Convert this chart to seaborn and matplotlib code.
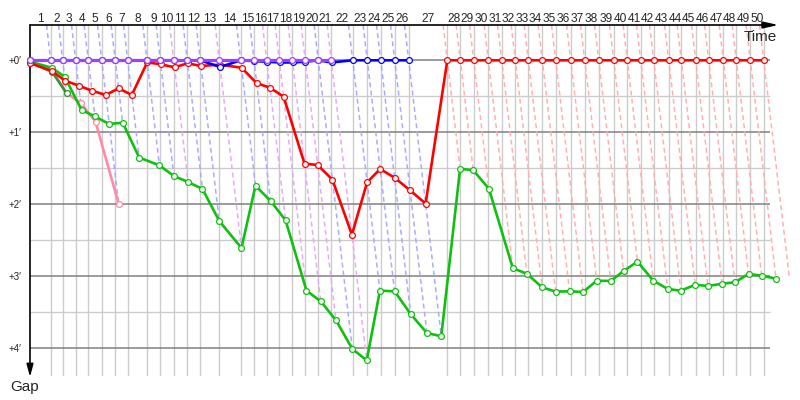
import pandas as pd
import seaborn as sns
from matplotlib import pyplot as plt

# leader's race time at the end of each lap, minutes (lap 0 .. 50)
lap_time = [0.0, 2.435, 3.847, 5.376, 6.859, 8.435, 10.035, 11.494, 13.765, 15.329,
            16.906, 18.506, 20.035, 22.271, 24.788, 26.353, 27.847, 29.329, 30.859, 32.388,
            33.918, 35.447, 37.965, 39.682, 41.259, 42.906, 44.553, 49.094, 50.624, 52.200,
            53.918, 55.494, 57.094, 58.624, 60.271, 61.847, 63.612, 65.259, 66.906, 68.671,
            70.271, 71.847, 73.376, 75.141, 76.624, 78.318, 79.847, 81.565, 83.094, 84.741,
            86.318]

# gap to the leader at the end of each lap, minutes
gap_violet = [0, 0, 0, 0, 0, 0, 0, 0, 0, 0,
              0, 0, 0, 0, 0, 0, 0, 0, 0, 0,
              0, 0]
gap_blue = [0, 0, 0, 0, 0, 0, 0, 0, 0, 0,
            0, 0, 0, 0.093, 0, 0.01, 0.02, 0.03, 0.03, 0.02,
            0, 0.03, 0, 0, 0, 0, 0]
gap_red = [0.04, 0.15, 0.283, 0.352, 0.422, 0.482, 0.389, 0.482, 0.028, 0.056,
           0.097, 0.042, 0.079, 0.06, 0.103, 0.319, 0.38, 0.505, 1.436, 1.454,
           1.658, 2.422, 1.694, 1.51, 1.63, 1.806, 1.99, 0, 0, 0,
           0, 0, 0, 0, 0, 0, 0, 0, 0, 0,
           0, 0, 0, 0, 0, 0, 0, 0, 0, 0,
           0]
gap_green = [0.02, 0.103, 0.227, 0.69, 0.78, 0.885, 0.866, 1.35, 1.46, 1.607,
             1.69, 1.788, 2.232, 2.607, 1.742, 1.954, 2.222, 3.2, 3.347, 3.611,
             4.01, 4.167, 3.2, 3.208, 3.524, 3.788, 3.833, 1.505, 1.528, 1.783,
             2.889, 2.964, 3.153, 3.213, 3.208, 3.218, 3.061, 3.065, 2.926, 2.797,
             3.061, 3.176, 3.2, 3.117, 3.135, 3.103, 3.083, 2.968, 2.991, 3.033]
gap_darkgreen = [0.03, 0.158, 0.458]
gap_pink = [0.03, 0.15, 0.45, 0.597, 0.852, 1.995]

# who led each lap (laps 1 .. 50)
lap_leader = ["blue", "blue", "blue", "blue", "blue", "blue", "blue", "blue", "blue", "violet",
              "blue", "blue", "violet", "blue", "blue", "violet", "violet", "violet", "violet", "blue",
              "violet", "blue", "blue", "blue", "blue", "blue", "red", "red", "red", "red",
              "red", "red", "red", "red", "red", "red", "red", "red", "red", "red",
              "red", "red", "red", "red", "red", "red", "red", "red", "red", "red"]
finishers = ["red", "green"]

gaps = {
    "pink": gap_pink,
    "darkgreen": gap_darkgreen,
    "green": gap_green,
    "red": gap_red,
    "blue": gap_blue,
    "violet": gap_violet,
}
colors = {
    "pink": "#ff8aa6",
    "darkgreen": "#3a8f3a",
    "green": "#10c010",
    "red": "#ff0000",
    "blue": "#0000ff",
    "violet": "#a040ff",
}
dash_colors = {"blue": "#aaaaff", "violet": "#e8aaf4", "red": "#ffb0b0"}

rows = []
for name, g in gaps.items():
    for lap, gap in enumerate(g):
        rows.append({"driver": name, "lap": lap, "gap": gap, "time": lap_time[lap] + gap})
df = pd.DataFrame(rows)

sns.set_style("white")
plt.rcParams["font.family"] = ["Liberation Sans", "DejaVu Sans"]

W, H = 800, 400
left_px, top_px, bottom_px, zero_px = 30, 25, 376, 60.3
x_scale, y_scale = 8.5, 72.0  # pixels per minute

fig = plt.figure(figsize=(8, 4), dpi=100)
ax = fig.add_axes([left_px / W, 1 - bottom_px / H, 1 - left_px / W, (bottom_px - top_px) / H])
y_top = (top_px - zero_px) / y_scale
y_bottom = (bottom_px - zero_px) / y_scale
ax.set_xlim(0, (W - left_px) / x_scale)
ax.set_ylim(y_bottom, y_top)
for s in ax.spines.values():
    s.set_visible(False)

# grid
grid_right = 87.1
ax.vlines(lap_time[1:], y_top, y_bottom, color="#cccccc", lw=1, zorder=0)
ax.hlines([0.5, 1.5, 2.5, 3.5], 0, grid_right, color="#cccccc", lw=1, zorder=0)
ax.hlines([0, 1, 2, 3, 4], 0, grid_right, color="#808080", lw=1.1, zorder=0.5)

# lap lines: from the leader down to the last car on that lap
for n in range(1, len(lap_time)):
    depth = 0
    for name, g in gaps.items():
        if n < len(g):
            depth = max(depth, g[n])
        elif name in finishers:
            depth = max(depth, g[-1])
    ax.plot([lap_time[n] + y_top, lap_time[n] + depth], [y_top, depth],
            color=dash_colors[lap_leader[n - 1]], lw=1.1, dashes=(3.2, 2.2), zorder=1)

for i, name in enumerate(gaps):
    sub = df[df["driver"] == name]
    sns.lineplot(data=sub, x="time", y="gap", ax=ax, color=colors[name],
                 lw=2.3 if name == "violet" else 1.9, marker="o", markersize=4.2,
                 markerfacecolor="white", markeredgecolor=colors[name], markeredgewidth=0.9,
                 sort=False, estimator=None, legend=False, zorder=2 + i, clip_on=False)

ax.set_xlabel("")
ax.set_ylabel("")
ax.set_xticks([])
ax.set_yticks([0, 1, 2, 3, 4], labels=["+0′", "+1′", "+2′", "+3′", "+4′"])
ax.tick_params(axis="y", length=0, pad=6, labelsize=7)

# axes arrows
ax.annotate("", xy=(0.972, 1), xytext=(0, 1), xycoords="axes fraction",
            arrowprops=dict(arrowstyle="-|>,head_length=0.9,head_width=0.2",
                            color="black", lw=1.2, shrinkA=0, shrinkB=0))
ax.annotate("", xy=(0, -0.003), xytext=(0, 1), xycoords="axes fraction",
            arrowprops=dict(arrowstyle="-|>,head_length=0.75,head_width=0.2",
                            color="black", lw=1.2, shrinkA=0, shrinkB=0))

# lap numbers between the lap lines
label_y = (21.7 - zero_px) / y_scale
for n in range(1, len(lap_time)):
    ax.text((lap_time[n - 1] + lap_time[n]) / 2, label_y, str(n),
            ha="center", va="baseline", fontsize=8.6)

ax.text((760 - left_px) / x_scale, (40.7 - zero_px) / y_scale, "Time",
        ha="center", va="baseline", fontsize=11)
ax.text((25 - left_px) / x_scale, (390.7 - zero_px) / y_scale, "Gap",
        ha="center", va="baseline", fontsize=11)

fig.savefig("out.png", dpi=100)
